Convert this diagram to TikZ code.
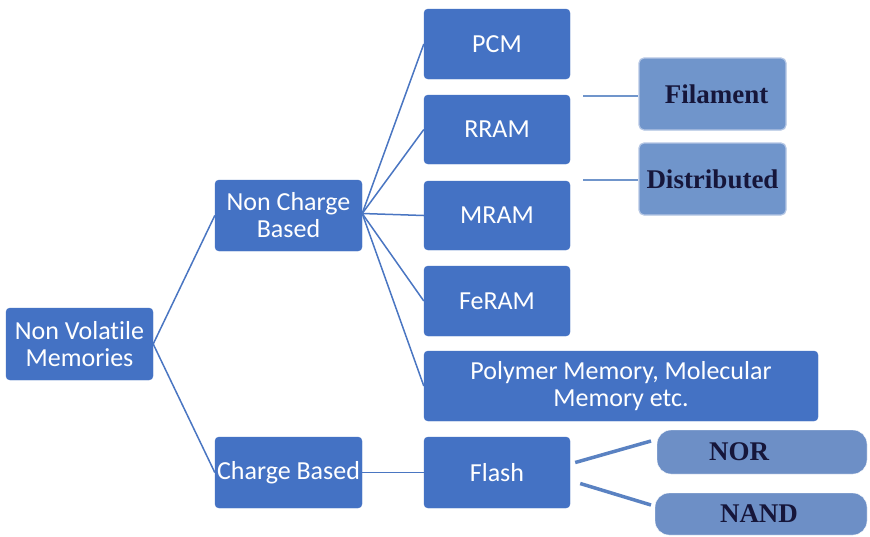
\documentclass[tikz,border=0pt]{standalone}
\usepackage{fontspec}
\setmainfont{Carlito}[Ligatures={NoCommon}]
\newfontfamily\serifbold{Liberation Serif}
\usetikzlibrary{calc}
\definecolor{boxblue}{HTML}{4472C4}
\definecolor{lightblue}{HTML}{7095CB}
\definecolor{lightedge}{HTML}{B4C6E4}
\definecolor{pillblue}{HTML}{6D8FC6}
\definecolor{navytext}{HTML}{16163A}
\definecolor{linkblue}{HTML}{4A76C2}
\definecolor{thickblue}{HTML}{5A82C2}
\tikzset{
  box/.style={draw=boxblue, fill=boxblue, rounded corners=4pt, text=white, align=center,
    inner sep=0pt, font=\fontsize{26}{27}\selectfont},
  subbox/.style={draw=lightedge, line width=1.2pt, fill=lightblue, rounded corners=5pt, text=navytext,
    inner sep=0pt, font=\serifbold\bfseries\fontsize{27}{29}\selectfont},
  pill/.style={draw=white, fill=pillblue, rounded corners=14pt, text=navytext,
    inner sep=0pt, font=\serifbold\bfseries\fontsize{27}{29}\selectfont},
  link/.style={draw=linkblue, line width=1.5pt},
  thicklink/.style={draw=thickblue, line width=3.5pt},
}
\begin{document}
\begin{tikzpicture}[x=1pt,y=-1pt]
\useasboundingbox (0,0) rectangle (870,536);
\fill[white] (0,0) rectangle (870,536);

\node[box, minimum width=147pt, minimum height=72pt] (nvm) at (79.5,344) {Non Volatile\\Memories};
\node[box, minimum width=147pt, minimum height=71pt] (ncb) at (288.5,215.5) {Non Charge\\Based};
\node[box, minimum width=147pt, minimum height=71pt] (cb) at (288.5,472.5) {Charge Based};

\node[box, minimum width=146pt, minimum height=70pt] (pcm) at (497,44) {PCM};
\node[box, minimum width=146pt, minimum height=69pt] (rram) at (497,129.5) {RRAM};
\node[box, minimum width=146pt, minimum height=69pt] (mram) at (497,215.5) {MRAM};
\node[box, minimum width=146pt, minimum height=70pt] (feram) at (497,301) {FeRAM};
\node[box, minimum width=394pt, minimum height=70pt] (poly) at (621,386) {Polymer Memory, Molecular\\Memory etc.};
\node[box, minimum width=146pt, minimum height=71pt] (flash) at (497,472.5) {Flash};

\node[subbox, minimum width=147pt, minimum height=72pt] (fil) at (712.5,94) {\hspace*{8pt}Filament};
\node[subbox, minimum width=147pt, minimum height=72pt] (dist) at (712.5,179) {Distributed};

\node[pill, minimum width=210pt, minimum height=44pt] (nor) at (762,452) {\hspace*{-46pt}NOR};
\node[pill, minimum width=212pt, minimum height=42pt] (nand) at (761,514) {\hspace*{-4pt}NAND};

% connectors
\draw[link] (nvm.east) -- (ncb.west);
\draw[link] (nvm.east) -- (cb.west);
\coordinate (fan) at ($(ncb.east)+(0,-2)$);
\draw[link] (fan) -- (pcm.west);
\draw[link] (fan) -- (rram.west);
\draw[link] (fan) -- (mram.west);
\draw[link] (fan) -- (feram.west);
\draw[link] (fan) -- (poly.west);
\draw[link] (cb.east) -- (flash.east -| flash.west);

\coordinate (fa) at (583,96);
\draw[link, line width=1.2pt, draw=lightblue] (fa) -- (fa -| fil.west);
\coordinate (da) at (583,180);
\draw[link, line width=1.2pt, draw=lightblue] (da) -- (da -| dist.west);

\coordinate (f1) at ($(flash.east)+(5,-10)$);
\coordinate (f2) at ($(flash.east)+(10,11)$);
\coordinate (n1) at (651,441);
\coordinate (n2) at (651,505);
\draw[thicklink] (f1) -- (n1);
\draw[thicklink] (f2) -- (n2);
\end{tikzpicture}
\end{document}
